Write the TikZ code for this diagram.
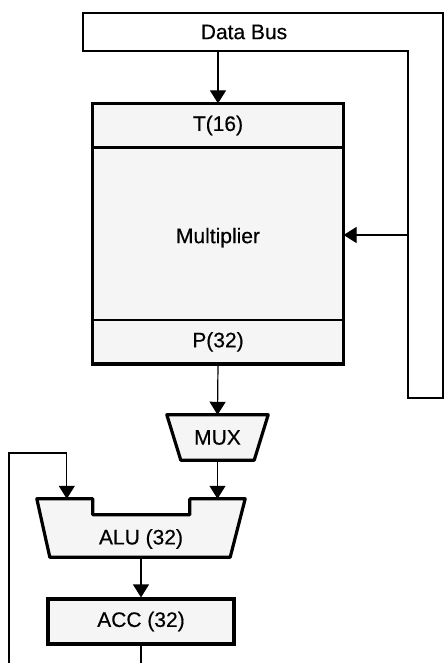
\documentclass[tikz,border=0pt]{standalone}
\usepackage{fontspec}
\setmainfont{Liberation Sans}[FakeBold=0.4]
\usetikzlibrary{arrows.meta,positioning}

\begin{document}
\begin{tikzpicture}[x=1pt, y=-1pt, >={Triangle[length=13pt,width=16pt]},
  every node/.style={font=\fontsize{21}{25}\selectfont},
  wire/.style={line width=1.2pt},
  heavy/.style={line width=3.2pt, line join=round, fill=gray!8},
  regbox/.style={draw, line width=1.2pt, fill=gray!8, minimum width=250pt, inner sep=0pt}]
  \clip (0,0) rectangle (444,663);

  % Data bus
  \draw[wire] (83,13) -- (443,13) -- (443,398) -- (408,398) -- (408,51) -- (83,51) -- cycle;
  \node (bus) at (244,32) {Data Bus};

  % Multiplier
  \node[regbox, minimum height=43pt] (treg) at (218,125.5) {T(16)};
  \node[regbox, minimum height=171pt, below=0pt of treg] (mult) {};
  \node[regbox, minimum height=43pt, below=0pt of mult] (preg) {P(32)};
  \node (multtext) at ([yshift=-4pt]mult.center) {Multiplier};
  \draw[line width=3.2pt] (treg.north west) rectangle (preg.south east);

  % MUX
  \node[minimum width=101pt, minimum height=45pt] (mux) at (217.5,437.5) {};
  \draw[heavy] (mux.north west) -- (mux.north east) -- ([xshift=-14pt]mux.south east)
    -- ([xshift=14pt]mux.south west) -- cycle;
  \node (muxtext) at (mux.center) {MUX};

  % ALU
  \node[minimum width=208pt, minimum height=58pt] (alu) at (141,528) {};
  \draw[heavy] (alu.north west) -- ++(56,0) -- ++(0,16) -- ++(97,0) -- ++(0,-16)
    -- (alu.north east) -- ([xshift=-15pt]alu.south east) -- ([xshift=13pt]alu.south west) -- cycle;
  \node (alutext) at (141,539) {ALU (32)};

  % Accumulator
  \node[regbox, line width=3.2pt, minimum width=186pt, minimum height=45pt] (acc) at (141,621.5) {ACC (32)};

  % Connections
  \coordinate (bust) at (218,51);
  \coordinate (busm) at (408,235);
  \draw[wire,->] (bust) -- (treg.north);
  \draw[wire,->] (busm) -- (busm -| mult.east);
  \draw[wire,->] (preg.south) -- (mux.north);
  \draw[wire,->] (mux.south) -- (mux.south |- alu.north);
  \draw[wire,->] (alu.south) -- (acc.north);
  \draw[wire,->] (acc.south) -- ++(0,30) -| (9,453) -| ([xshift=30pt]alu.north west);
\end{tikzpicture}
\end{document}
